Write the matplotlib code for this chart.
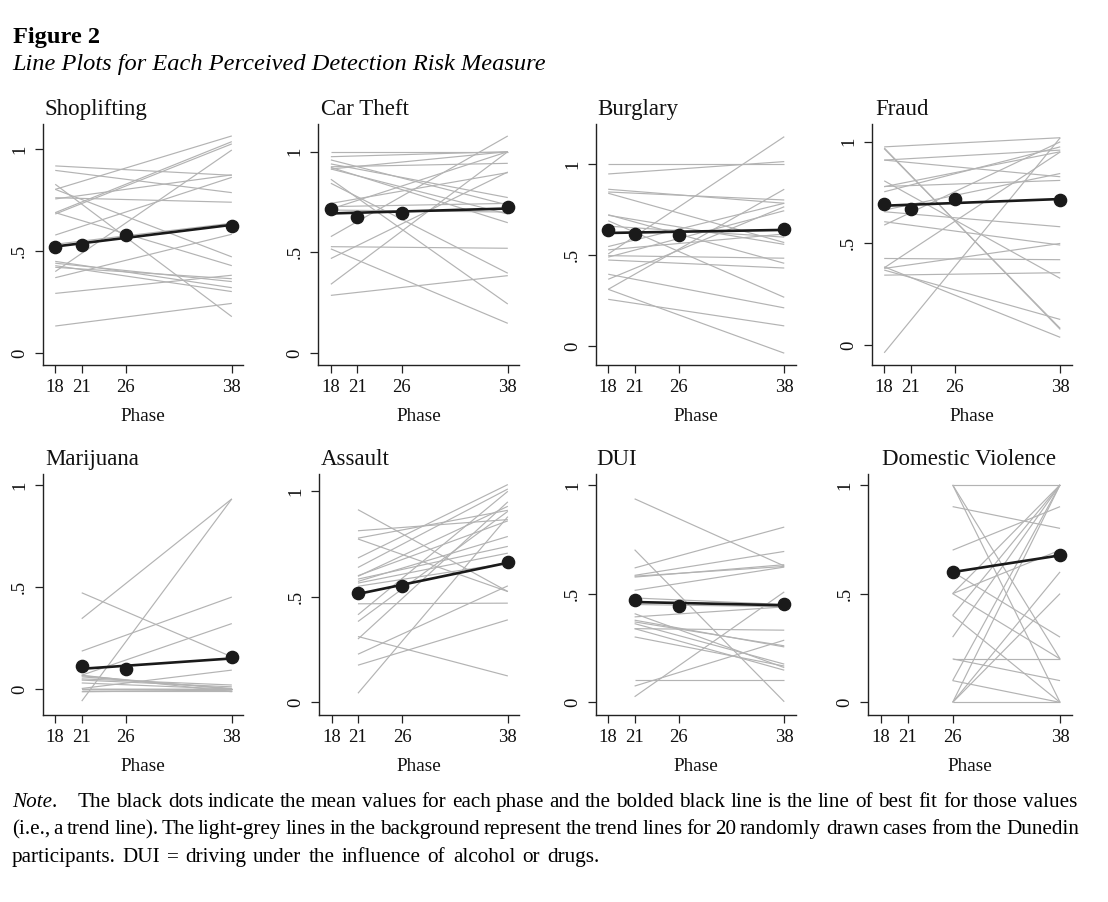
import numpy as np
import matplotlib
matplotlib.use('Agg')
import matplotlib.pyplot as plt
from matplotlib.textpath import TextPath
from matplotlib.font_manager import FontProperties

plt.rcParams['font.family'] = 'Liberation Serif'

# ---------------- data ----------------
phases = [18, 21, 26, 38]
phase_labels = ['18', '21', '26', '38']
ytick_values = [0, 0.5, 1]
ytick_labels = ['0', '.5', '1']

titles = ['Shoplifting', 'Car Theft', 'Burglary', 'Fraud',
          'Marijuana', 'Assault', 'DUI', 'Domestic Violence']

# first phase observed for each measure
first_phase = [18, 18, 18, 18, 21, 21, 21, 26]

# grey individual trend lines: value at first phase and at phase 38
shoplifting_start = [0.132, 0.292, 0.827, 0.802, 0.688, 0.917, 0.895, 0.761, 0.755, 0.802,
                     0.688, 0.681, 0.578, 0.399, 0.369, 0.449, 0.428, 0.420, 0.533, 0.440]
shoplifting_end = [0.243, 0.381, 0.178, 0.471, 0.428, 0.871, 0.786, 0.739, 0.873, 1.064,
                   1.036, 1.025, 0.861, 0.995, 0.582, 0.320, 0.301, 0.364, 0.636, 0.350]

car_theft_start = [1.000, 0.975, 0.286, 0.341, 0.469, 0.578, 0.528, 0.517, 0.863, 0.843,
                   0.939, 0.959, 0.922, 0.914, 0.743, 0.715, 0.925, 0.710, 0.727, 0.914]
car_theft_end = [1.000, 1.000, 0.384, 1.000, 0.899, 1.078, 0.520, 0.147, 0.243, 0.396,
                 0.772, 0.735, 0.647, 0.690, 0.896, 1.000, 0.942, 0.700, 0.743, 1.000]

burglary_start = [1.000, 0.947, 0.507, 0.313, 0.368, 0.548, 0.863, 0.848, 0.841, 0.723,
                  0.690, 0.396, 0.258, 0.313, 0.498, 0.474, 0.530, 0.660, 0.490, 0.720]
burglary_end = [1.000, 1.015, 1.152, 0.863, 0.767, 0.786, 0.786, 0.804, 0.570, 0.456,
                0.269, 0.211, 0.112, -0.038, 0.484, 0.430, 0.617, 0.600, 0.745, 0.560]

fraud_start = [-0.038, 0.975, 0.966, 0.970, 0.910, 0.910, 0.808, 0.779, 0.754, 0.656,
               0.607, 0.590, 0.380, 0.426, 0.377, 0.369, 0.344, 0.385, 0.780, 0.664]
fraud_end = [1.020, 1.020, 0.082, 0.077, 0.828, 0.959, 0.328, 0.951, 0.975, 0.582,
             0.492, 1.000, 0.950, 0.420, 0.500, 0.126, 0.356, 0.038, 0.810, 0.844]

marijuana_start = [0.345, -0.059, 0.472, 0.186, 0.068, 0.003, 0.060, 0.044, 0.068, 0.000,
                   -0.013, 0.000, 0.050, 0.000, 0.000, 0.065, 0.000, -0.010, 0.000, 0.030]
marijuana_end = [0.932, 0.932, 0.158, 0.451, 0.321, 0.093, 0.003, 0.011, -0.013, 0.000,
                 -0.005, 0.000, 0.020, 0.000, 0.000, 0.000, 0.000, -0.010, 0.000, 0.000]

assault_start = [0.913, 0.813, 0.778, 0.774, 0.684, 0.639, 0.597, 0.584, 0.573, 0.467,
                 0.415, 0.383, 0.312, 0.176, 0.228, 0.043, 0.565, 0.550, 0.600, 0.300]
assault_end = [0.525, 0.866, 0.910, 0.525, 1.032, 1.011, 0.929, 0.739, 0.786, 0.470,
               1.000, 0.905, 0.125, 0.391, 0.552, 0.880, 0.707, 0.660, 0.860, 0.950]

dui_start = [0.936, 0.618, 0.584, 0.576, 0.515, 0.702, 0.026, 0.075, 0.102, 0.393,
             0.378, 0.339, 0.362, 0.339, 0.301, 0.580, 0.408, 0.450, 0.370, 0.480]
dui_end = [0.627, 0.806, 0.694, 0.633, 0.622, 0.003, 0.508, 0.286, 0.102, 0.439,
           0.255, 0.332, 0.176, 0.148, 0.167, 0.625, 0.160, 0.440, 0.260, 0.450]

dv_start = [1.0, 1.0, 1.0, 0.9, 0.7, 0.5, 0.5, 0.5, 0.4, 0.4,
            0.3, 0.2, 0.2, 0.1, 0.1, 0.0, 0.0, 0.0, 0.0, 0.6]
dv_end = [1.0, 0.2, 0.0, 0.8, 0.9, 1.0, 0.7, 0.2, 0.0, 1.0,
          1.0, 0.2, 0.1, 0.0, 1.0, 1.0, 0.6, 0.5, 0.0, 0.3]

# mean values at each phase (None = not measured)
shoplifting_means = [0.521, 0.529, 0.578, 0.624]
car_theft_means = [0.715, 0.677, 0.694, 0.724]
burglary_means = [0.639, 0.617, 0.614, 0.647]
fraud_means = [0.692, 0.667, 0.721, 0.713]
marijuana_means = [None, 0.111, 0.098, 0.155]
assault_means = [None, 0.517, 0.552, 0.663]
dui_means = [None, 0.472, 0.442, 0.451]
dv_means = [None, None, 0.599, 0.676]

starts = [shoplifting_start, car_theft_start, burglary_start, fraud_start,
          marijuana_start, assault_start, dui_start, dv_start]
ends = [shoplifting_end, car_theft_end, burglary_end, fraud_end,
        marijuana_end, assault_end, dui_end, dv_end]
means = [shoplifting_means, car_theft_means, burglary_means, fraud_means,
         marijuana_means, assault_means, dui_means, dv_means]

note_line1 = "The black dots indicate the mean values for each phase and the bolded black line is the line of best fit for those values"
note_line2 = "(i.e., a trend line). The light-grey lines in the background represent the trend lines for 20 randomly drawn cases from the Dunedin"
note_line3 = "participants. DUI = driving under the influence of alcohol or drugs."

# ---------------- layout ----------------
W, H = 1108, 902
fig = plt.figure(figsize=(W / 100, H / 100), dpi=100)
fig.patch.set_facecolor('white')

col_px = [[(42.7, 243.3), (318.3, 519.3), (595.7, 795.7), (871.7, 1071.7)],
          [(42.7, 243.3), (319.0, 519.3), (595.7, 795.7), (868.3, 1071.7)]]
row_px = [(124.3, 365.0), (474.0, 715.0)]
ylims = [(-0.059, 1.121), (-0.060, 1.136), (-0.103, 1.220), (-0.098, 1.086),
         (-0.127, 1.054), (-0.060, 1.082), (-0.058, 1.050), (-0.058, 1.050)]
title_left_px = [45, 321, 597, 875, 45, 321, 596, 882]
xlim = (16.58, 39.3)

GREY = '#b3b3b3'
BLACK = '#1a1a1a'
AXC = '#222222'

for i in range(8):
    r, c = divmod(i, 4)
    x0, x1 = col_px[r][c]
    t0, b0 = row_px[r]
    ax = fig.add_axes([x0 / W, 1 - b0 / H, (x1 - x0) / W, (b0 - t0) / H])
    ax.set_xlim(*xlim)
    ax.set_ylim(*ylims[i])

    fp = first_phase[i]
    for s, e in zip(starts[i], ends[i]):
        ax.plot([fp, 38], [s, e], color=GREY, lw=0.85, zorder=1, solid_capstyle='butt')

    px = [p for p, m in zip(phases, means[i]) if m is not None]
    py = [m for m in means[i] if m is not None]
    slope, icpt = np.polyfit(px, py, 1)
    ax.plot([px[0], px[-1]], [icpt + slope * px[0], icpt + slope * px[-1]],
            color=BLACK, lw=1.9, zorder=3, solid_capstyle='round')
    ax.plot(px, py, 'o', color=BLACK, ms=8.8, mec=BLACK, zorder=4)

    for side in ['top', 'right']:
        ax.spines[side].set_visible(False)
    for side in ['left', 'bottom']:
        ax.spines[side].set_color(AXC)
        ax.spines[side].set_linewidth(1.0)

    ax.set_xticks(phases)
    ax.set_xticklabels(phase_labels)
    ax.set_yticks(ytick_values)
    ax.set_yticklabels(ytick_labels, rotation=90, va='center')
    ax.tick_params(axis='both', direction='out', length=6, width=0.9,
                   color=AXC, labelsize=13.5, labelcolor='#111111')
    ax.tick_params(axis='x', pad=4)
    ax.tick_params(axis='y', pad=4.5)
    ax.set_facecolor('white')

    ax.text((title_left_px[i] - x0) / (x1 - x0), 1 + 9 / (b0 - t0), titles[i],
            transform=ax.transAxes, ha='left', va='baseline', fontsize=16.5,
            color='#111111')
    ax.text(0.5, -56 / (b0 - t0), 'Phase', transform=ax.transAxes,
            ha='center', va='baseline', fontsize=13.8, color='#111111')

# ---------------- header ----------------
fig.text(13 / W, 1 - 43 / H, 'Figure 2', fontsize=17.6, fontweight='bold',
         ha='left', va='baseline', color='black')
fig.text(12 / W, 1 - 70 / H, 'Line Plots for Each Perceived Detection Risk Measure',
         fontsize=17.6, style='italic', ha='left', va='baseline', color='black')

# ---------------- note (justified) ----------------
NOTE_FS = 15.5
MIN_GAP = 4.5
FP_REG = FontProperties(family='Liberation Serif')
FP_IT = FontProperties(family='Liberation Serif', style='italic')


def word_width_px(word, fs, prop=FP_REG):
    tp = TextPath((0, 0), word, size=fs * 100 / 72, prop=prop)
    return tp.get_extents().x1


lines = [(note_line1.split(' '), 807, 78, 1076),
         (note_line2.split(' '), 834, 12, 1078),
         (note_line3.split(' '), 862, 12, 598)]

# one common font size that lets every line fit with at least MIN_GAP spacing
fs_note = NOTE_FS
for words, y_px, xa, xb in lines:
    widths = [word_width_px(w, NOTE_FS) for w in words]
    avail = xb - xa - MIN_GAP * (len(words) - 1)
    if sum(widths) > avail:
        fs_note = min(fs_note, NOTE_FS * avail / sum(widths))
fs_note = round(fs_note, 1)

for words, y_px, xa, xb in lines:
    widths = [word_width_px(w, fs_note) for w in words]
    gap = (xb - xa - sum(widths)) / max(len(words) - 1, 1)
    x = xa
    for w, wd in zip(words, widths):
        fig.text(round(x) / W, 1 - y_px / H, w, fontsize=fs_note, ha='left',
                 va='baseline', color='black')
        x += wd + gap

nw = word_width_px('Note', fs_note, FP_IT)
fig.text(12 / W, 1 - 807 / H, 'Note', fontsize=fs_note, style='italic',
         ha='left', va='baseline', color='black')
fig.text(round(12 + nw + 1) / W, 1 - 807 / H, '.', fontsize=fs_note, ha='left',
         va='baseline', color='black')

fig.savefig('out.png', dpi=100, facecolor='white')
